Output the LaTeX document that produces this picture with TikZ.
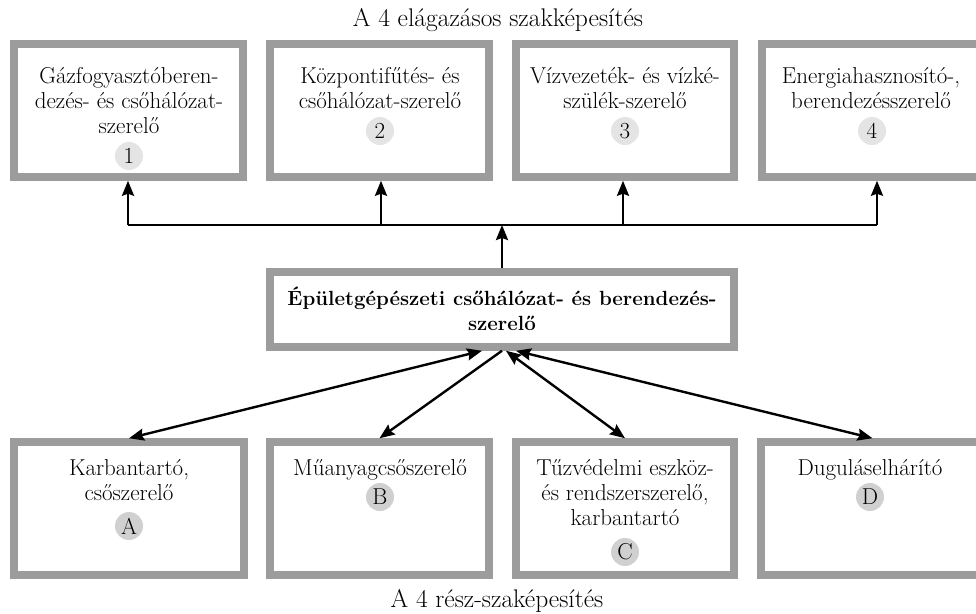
\documentclass[tikz,border=0pt]{standalone}
\usepackage{fontspec}
\usetikzlibrary{arrows.meta}
\definecolor{bordergray}{HTML}{9C9C9C}
\definecolor{numgray}{HTML}{E4E4E4}
\definecolor{letgray}{HTML}{D0D0D0}
\begin{document}
\begin{tikzpicture}[x=1pt,y=-1pt,
  box/.style={draw=bordergray, line width=7.5pt, inner sep=0pt, minimum height=133pt, fill=white},
  txt/.style={font=\fontsize{23}{25}\selectfont, inner sep=0pt, anchor=base},
  ttl/.style={font=\fontsize{25.5}{28}\selectfont, inner sep=0pt, anchor=base},
  numc/.style={circle, fill=numgray, minimum size=28pt, inner sep=0pt, font=\fontsize{23}{25}\selectfont},
  letc/.style={circle, fill=letgray, minimum size=28pt, inner sep=0pt, font=\fontsize{23}{25}\selectfont},
  arr/.style={line width=2.4pt, -{Stealth[length=15pt,width=12pt,inset=2pt]}},
  darr/.style={line width=2.4pt, {Stealth[length=15pt,width=12pt,inset=2pt]}-{Stealth[length=15pt,width=12pt,inset=2pt]}},
  bus/.style={line width=2.4pt}]
\useasboundingbox (0,0) rectangle (976,613);
% top boxes
\node[box, minimum width=229pt] (t1) at (128.5,110.5) {};
\node[box, minimum width=219pt] (t2) at (379.5,110.5) {};
\node[box, minimum width=218pt] (t3) at (625,110.5) {};
\node[box, minimum width=219pt] (t4) at (871.5,110.5) {};
% middle box
\node[box, minimum width=464pt, minimum height=75pt] (m) at (502,309.5) {};
% bottom boxes
\node[box, minimum width=230pt] (a) at (129,508.5) {};
\node[box, minimum width=219pt] (b) at (379.5,508.5) {};
\node[box, minimum width=218pt] (c) at (625,508.5) {};
\node[box, minimum width=219pt] (d) at (870.5,508.5) {};
% titles
\node[ttl] (title) at (498,27) {A 4 elágazásos szakképesítés};
\node[ttl] (subtitle) at (497,607) {A 4 rész-szaképesítés};
% top texts
\node[txt] (t1t) at (129,83) {\begin{tabular}[t]{@{}c@{}}Gázfogyasztóberen-\\dezés- és csőhálózat-\\szerelő\end{tabular}};
\node[numc] (t1n) at (129,156) {1};
\node[txt] (t2t) at (380,83) {\begin{tabular}[t]{@{}c@{}}Központifűtés- és\\csőhálózat-szerelő\end{tabular}};
\node[numc] (t2n) at (380,131) {2};
\node[txt] (t3t) at (625,83) {\begin{tabular}[t]{@{}c@{}}Vízvezeték- és vízké-\\szülék-szerelő\end{tabular}};
\node[numc] (t3n) at (625,131) {3};
\node[txt] (t4t) at (871,83) {\begin{tabular}[t]{@{}c@{}}Energiahasznosító-,\\berendezésszerelő\end{tabular}};
\node[numc] (t4n) at (872,131) {4};
% middle text
\node[txt, font=\fontsize{20.5}{25}\selectfont\bfseries] (mt) at (502,305) {\begin{tabular}[t]{@{}c@{}}Épületgépészeti csőhálózat- és berendezés-\\szerelő\end{tabular}};
% bottom texts
\node[txt] (at) at (129,475) {\begin{tabular}[t]{@{}c@{}}Karbantartó,\\csőszerelő\end{tabular}};
\node[letc] (an) at (129,526) {A};
\node[txt] (bt) at (380,475) {Műanyagcsőszerelő};
\node[letc] (bn) at (380,497) {B};
\node[txt] (ct) at (625,475) {\begin{tabular}[t]{@{}c@{}}Tűzvédelmi eszköz-\\és rendszerszerelő,\\karbantartó\end{tabular}};
\node[letc] (cn) at (625,552) {C};
\node[txt] (dt) at (870,475) {Duguláselhárító};
\node[letc] (dn) at (870,497) {D};
% bus
\coordinate (bl) at (128,225);
\coordinate (br) at (877,225);
\coordinate (b2) at (381,225);
\coordinate (b3) at (623,225);
\draw[bus] (bl) -- (br);
\draw[arr] (bl) -- (bl |- t1.south);
\draw[arr] (b2) -- (b2 |- t2.south);
\draw[arr] (b3) -- (b3 |- t3.south);
\draw[arr] (br) -- (br |- t4.south);
\draw[arr] (m.north) -- (m.north |- bl);
% bottom connectors
\draw[darr] ([xshift=-20pt]m.south) -- (a.north);
\draw[arr] (m.south) -- (b.north);
\draw[darr] ([xshift=4pt]m.south) -- (c.north);
\draw[darr] ([xshift=14pt]m.south) -- ([xshift=2pt]d.north);
\end{tikzpicture}
\end{document}
